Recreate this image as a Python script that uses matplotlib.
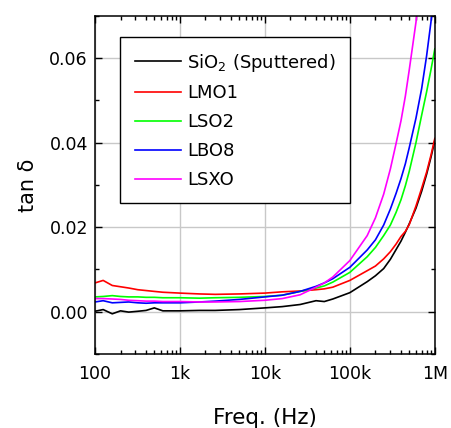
import matplotlib.pyplot as plt
from matplotlib.ticker import FixedLocator, FixedFormatter, MultipleLocator, LogLocator, NullFormatter

plt.rcParams['font.family'] = ['DejaVu Sans']
plt.rcParams['mathtext.default'] = 'regular'

# frequencies (Hz)
freq = [100, 125, 160, 200, 250, 320, 400, 500, 630, 1e3, 1.7e3, 2.6e3, 5e3, 1e4, 1.6e4,
        2.6e4, 4e4, 5e4, 6.3e4, 1e5, 1.6e5, 2e5, 2.5e5, 3e5, 3.5e5, 4e5, 4.5e5, 5e5,
        6e5, 7e5, 8e5, 9e5, 1e6]

sio2 = [0.0001, 0.0005, -0.0005, 0.0002, -0.0001, 0.0001, 0.0003, 0.0009, 0.0002, 0.0002,
        0.0003, 0.0003, 0.0005, 0.0009, 0.0012, 0.0017, 0.0026, 0.0024, 0.0030, 0.0045,
        0.0071, 0.0085, 0.0102, 0.0124, 0.0147, 0.0167, 0.0188, 0.0208, 0.0245, 0.0285,
        0.0325, 0.0365, 0.0405]
lmo1 = [0.0068, 0.0074, 0.0062, 0.0059, 0.0056, 0.0052, 0.0050, 0.0048, 0.0046, 0.0044,
        0.0042, 0.0041, 0.0042, 0.0044, 0.0047, 0.0049, 0.0052, 0.0054, 0.0058, 0.0074,
        0.0097, 0.0108, 0.0125, 0.0142, 0.0160, 0.0178, 0.0190, 0.0206, 0.0250, 0.0292,
        0.0330, 0.0370, 0.0410]
lso2 = [0.0035, 0.0036, 0.0038, 0.0036, 0.0035, 0.0035, 0.0034, 0.0034, 0.0033, 0.0033,
        0.0032, 0.0033, 0.0034, 0.0036, 0.0039, 0.0048, 0.0056, 0.0061, 0.0070, 0.0093,
        0.0130, 0.0152, 0.0180, 0.0205, 0.0235, 0.0265, 0.0298, 0.0332, 0.0400, 0.0465,
        0.0520, 0.0572, 0.0622]
lbo8 = [0.0023, 0.0026, 0.0021, 0.0022, 0.0023, 0.0021, 0.0020, 0.0021, 0.0021, 0.0021,
        0.0023, 0.0025, 0.0029, 0.0035, 0.0039, 0.0048, 0.0060, 0.0068, 0.0078, 0.0105,
        0.0146, 0.0170, 0.0205, 0.0243, 0.0280, 0.0315, 0.0350, 0.0388, 0.0458, 0.0528,
        0.0605, 0.0685, 0.0770]
lsxo = [0.0031, 0.0031, 0.0030, 0.0029, 0.0027, 0.0026, 0.0025, 0.0025, 0.0024, 0.0024,
        0.0023, 0.0023, 0.0024, 0.0027, 0.0031, 0.0040, 0.0058, 0.0068, 0.0082, 0.0121,
        0.0180, 0.0222, 0.0278, 0.0338, 0.0398, 0.0452, 0.0510, 0.0572, 0.0685, 0.0800,
        0.0900, 0.1000, 0.1100]

series = [sio2, lmo1, lso2, lbo8, lsxo]
names = ['SiO$_2$ (Sputtered)', 'LMO1', 'LSO2', 'LBO8', 'LSXO']
colors = ['#000000', '#ff0000', '#00ff00', '#0000ff', '#ff00ff']

xticks = [1e2, 1e3, 1e4, 1e5, 1e6]
xticklabels = ['100', '1k', '10k', '100k', '1M']
yticks = [0.00, 0.02, 0.04, 0.06]

fig = plt.figure(figsize=(4.52, 4.28), dpi=100)
ax = fig.add_axes([0.210, 0.173, 0.752, 0.790])

for y, n, c in zip(series, names, colors):
    ax.plot(freq, y, color=c, lw=1.2, label=n)

ax.set_xscale('log')
ax.set_xlim(100, 1e6)
ax.set_ylim(-0.01, 0.07)
ax.xaxis.set_major_locator(FixedLocator(xticks))
ax.xaxis.set_major_formatter(FixedFormatter(xticklabels))
ax.xaxis.set_minor_locator(LogLocator(base=10, subs=range(2, 10)))
ax.xaxis.set_minor_formatter(NullFormatter())
ax.yaxis.set_major_locator(FixedLocator(yticks))
ax.yaxis.set_minor_locator(MultipleLocator(0.01))
ax.set_yticklabels(['%.2f' % v for v in yticks])

ax.grid(which='major', color='#c8c8c8', lw=1.0)
ax.set_axisbelow(True)
ax.tick_params(which='both', direction='in', top=True, right=True, labelsize=12.5, width=1)
ax.tick_params(which='major', length=5)
ax.tick_params(axis='x', which='major', pad=8)
ax.tick_params(axis='y', which='major', pad=5)
ax.tick_params(which='minor', length=3)
for s in ax.spines.values():
    s.set_linewidth(1.1)

ax.set_xlabel('Freq. (Hz)', fontsize=15.5, labelpad=18)
ax.set_ylabel('tan δ', fontsize=15, labelpad=8)

leg = ax.legend(loc='upper left', bbox_to_anchor=(0.074, 0.937), fontsize=13,
                handlelength=2.55, fancybox=False, framealpha=1, edgecolor='black',
                borderpad=0.8, labelspacing=0.6, handletextpad=0.35, borderaxespad=0)
leg.get_frame().set_linewidth(1.0)

fig.savefig('out.png', dpi=100)
